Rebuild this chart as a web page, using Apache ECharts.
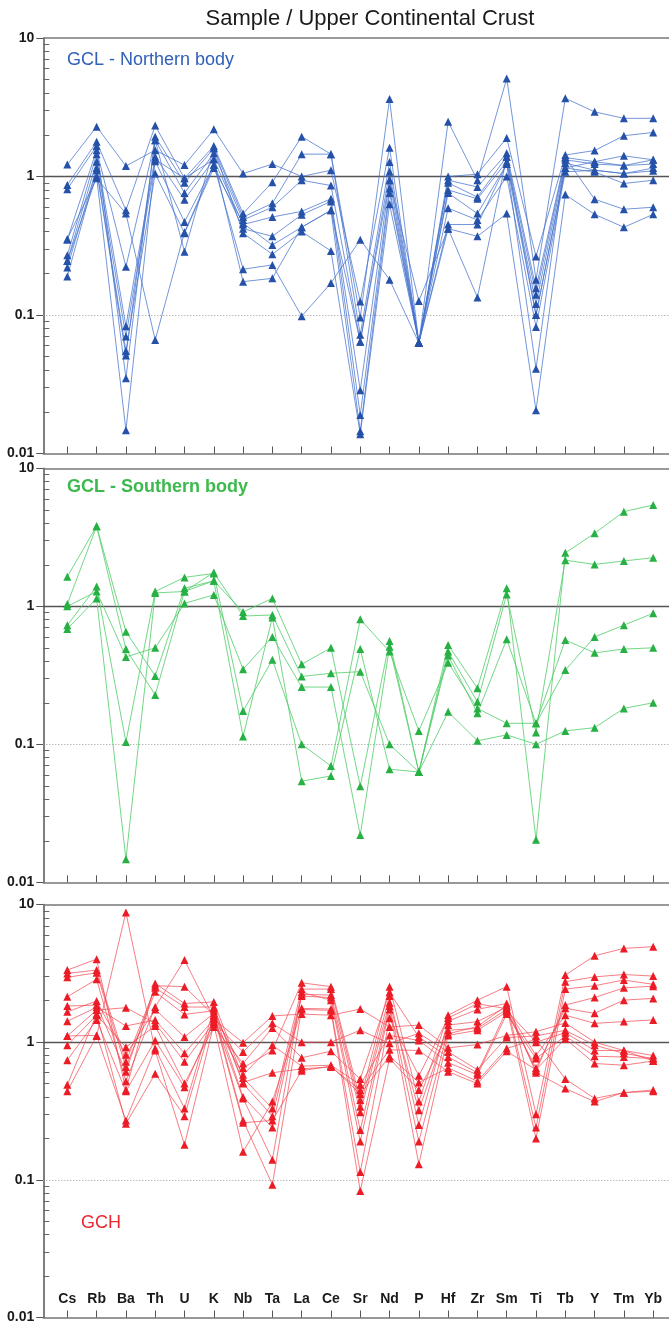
<!DOCTYPE html>
<html>
<head>
<meta charset="utf-8">
<script src="https://cdn.jsdelivr.net/npm/echarts@6/dist/echarts.min.js"></script>
<style>
  html, body { margin: 0; padding: 0; background: #fff; }
  #chart { width: 669px; height: 1326px; }
</style>
</head>
<body>
<div id="chart"></div>
<script>
// Elements on the x axis (normalised to Upper Continental Crust)
const elements = ['Cs','Rb','Ba','Th','U','K','Nb','Ta','La','Ce','Sr','Nd','P','Hf','Zr','Sm','Ti','Tb','Y','Tm','Yb'];
const yTickLabels = ['0.01', '0.1', '1', '10'];
const minorTickValues = [0.02,0.03,0.04,0.05,0.06,0.07,0.08,0.09,0.2,0.3,0.4,0.5,0.6,0.7,0.8,0.9,2,3,4,5,6,7,8,9];

// GCL - Northern body
const north1  = [1.22, 2.29, 1.19, 1.55, 1.21, 2.19, 1.05, 1.23, 1.0, 1.11, 0.125, 1.61, 0.063, 1.0, 1.04, 1.9, 0.264, 1.43, 1.54, 1.97, 2.08];
const north2  = [0.87, 1.78, 0.57, 2.33, 0.97, 1.66, 0.54, 0.91, 1.94, 1.45, 0.096, 3.62, 0.063, 2.49, 0.94, 5.1, 0.18, 3.67, 2.93, 2.63, 2.63];
const north3  = [0.81, 1.66, 0.035, 1.94, 0.90, 1.6, 0.51, 0.64, 1.45, 1.45, 0.072, 1.27, 0.063, 0.94, 0.84, 1.47, 0.156, 1.37, 1.28, 1.41, 1.32];
const north4  = [0.35, 1.55, 0.223, 1.83, 0.76, 1.47, 0.485, 0.60, 0.94, 0.86, 0.064, 1.08, 0.063, 0.90, 0.71, 1.39, 0.14, 1.32, 1.23, 1.2, 1.23];
const north5  = [0.27, 1.45, 0.083, 1.39, 0.68, 1.33, 0.45, 0.51, 0.56, 0.69, 0.0286, 0.94, 0.063, 0.80, 0.69, 1.28, 0.12, 1.25, 1.11, 1.05, 1.15];
const north6  = [0.245, 1.28, 0.07, 1.29, 0.47, 1.21, 0.42, 0.37, 0.53, 0.66, 0.019, 0.82, 0.063, 0.76, 0.54, 1.23, 0.1, 1.15, 1.08, 0.89, 0.94];
const north7  = [0.22, 1.15, 0.055, 1.05, 0.39, 1.15, 0.46, 0.32, 0.43, 0.57, 0.0145, 0.76, 0.063, 0.59, 0.485, 1.0, 0.082, 1.08, 1.11, 1.05, 1.10];
const north8  = [0.19, 1.11, 0.051, 1.83, 0.286, 1.6, 0.39, 0.274, 0.40, 0.29, 0.0138, 0.63, 0.063, 0.45, 0.45, 1.23, 0.041, 1.37, 0.685, 0.58, 0.60];
const north9  = [0.354, 0.97, 0.54, 0.066, 0.395, 1.21, 0.214, 0.23, 0.098, 0.17, 0.35, 0.18, 0.063, 0.42, 0.37, 0.54, 0.0205, 0.74, 0.533, 0.43, 0.533];
const north10 = [0.245, 1.0, 0.0147, 1.33, 0.97, 1.33, 0.174, 0.184, 0.43, 0.57, 0.064, 0.94, 0.126, 0.42, 0.134, 1.39, 0.1, 1.15, 1.28, 1.2, 1.32];

// GCL - Southern body
const south1 = [1.64, 3.81, 0.655, 0.313, 1.35, 1.53, 0.91, 1.14, 0.38, 0.5, 0.0497, 0.56, 0.063, 0.525, 0.255, 1.35, 0.0203, 2.44, 3.38, 4.85, 5.42];
const south2 = [1.04, 3.8, 0.49, 0.228, 1.28, 1.76, 0.85, 0.865, 0.31, 0.327, 0.336, 0.1, 0.063, 0.47, 0.203, 1.22, 0.122, 2.16, 2.01, 2.13, 2.25];
const south3 = [1.0, 1.28, 0.43, 0.5, 1.05, 1.21, 0.35, 0.6, 0.26, 0.26, 0.022, 0.51, 0.063, 0.44, 0.168, 0.577, 0.142, 0.57, 0.46, 0.49, 0.5];
const south4 = [0.73, 1.39, 0.104, 1.28, 1.62, 1.73, 0.174, 0.41, 0.1, 0.0696, 0.805, 0.47, 0.125, 0.39, 0.182, 0.142, 0.142, 0.345, 0.6, 0.73, 0.89];
const south5 = [0.685, 1.14, 0.0147, 1.25, 1.28, 1.53, 0.114, 0.83, 0.054, 0.059, 0.49, 0.066, 0.063, 0.172, 0.106, 0.117, 0.1, 0.125, 0.132, 0.182, 0.2];

// GCH
const gch1  = [1.83, 1.86, 0.61, 2.57, 2.53, 1.57, 0.65, 0.87, 2.7, 2.53, 0.38, 2.53, 0.37, 1.57, 2.02, 2.53, 0.3, 3.07, 4.24, 4.8, 4.94];
const gch2  = [3.34, 4.01, 0.45, 2.67, 1.91, 1.96, 0.55, 0.33, 2.43, 2.43, 0.34, 2.16, 0.25, 1.42, 1.73, 1.91, 0.24, 2.75, 2.98, 3.1, 3.02];
const gch3  = [3.16, 3.34, 0.72, 2.48, 1.8, 1.8, 0.5, 0.29, 2.22, 2.2, 0.31, 1.93, 0.32, 1.33, 1.41, 1.8, 0.2, 2.43, 2.57, 2.83, 2.63];
const gch4  = [2.96, 3.19, 0.66, 2.32, 1.59, 1.69, 0.4, 0.24, 2.16, 2.11, 0.23, 1.83, 0.19, 1.22, 1.26, 1.73, 0.62, 1.86, 2.11, 2.48, 2.55];
const gch5  = [2.14, 2.86, 0.52, 1.8, 3.95, 1.5, 0.39, 0.14, 2.3, 2.02, 0.19, 1.73, 0.13, 1.12, 1.22, 1.66, 0.65, 1.76, 1.62, 2.02, 2.08];
const gch6  = [1.66, 1.99, 0.81, 1.73, 1.09, 1.62, 0.27, 0.092, 1.76, 1.74, 0.114, 1.49, 0.57, 1.5, 1.9, 1.75, 0.8, 1.57, 1.37, 1.41, 1.45];
const gch7  = [1.42, 1.79, 1.31, 1.45, 0.83, 1.47, 0.99, 1.55, 1.6, 1.57, 1.74, 1.29, 1.33, 0.91, 0.96, 1.12, 1.19, 1.38, 1.0, 0.87, 0.80];
const gch8  = [1.11, 1.71, 1.78, 1.37, 0.72, 1.39, 0.85, 1.37, 1.0, 1.0, 1.22, 0.98, 1.16, 0.85, 0.63, 1.08, 1.11, 1.22, 0.95, 0.83, 0.76];
const gch9  = [0.95, 1.57, 0.92, 1.31, 0.5, 1.29, 0.7, 1.27, 0.77, 0.86, 0.54, 2.3, 1.09, 0.78, 0.6, 1.7, 1.0, 1.17, 0.87, 0.87, 0.73];
const gch10 = [0.74, 1.45, 0.44, 1.03, 0.47, 1.42, 0.58, 0.95, 0.67, 0.68, 0.49, 1.12, 1.03, 0.71, 0.58, 1.6, 0.76, 1.11, 0.79, 0.78, 0.76];
const gch11 = [1.11, 1.12, 0.27, 0.9, 0.33, 1.75, 0.51, 0.6, 0.64, 0.66, 0.45, 0.88, 0.87, 0.61, 0.5, 0.86, 0.63, 1.06, 0.70, 0.68, 0.73];
const gch12 = [0.49, 1.6, 0.256, 0.59, 0.29, 1.55, 0.26, 0.27, 0.62, 0.67, 0.42, 0.79, 0.51, 0.65, 0.52, 0.9, 1.05, 0.54, 0.39, 0.43, 0.45];
const gch13 = [0.44, 1.11, 8.75, 0.87, 0.18, 1.35, 0.16, 0.37, 1.73, 1.7, 0.083, 0.76, 0.45, 1.15, 1.3, 1.85, 0.6, 0.46, 0.37, 0.43, 0.44];

const panels = [
  { label: 'GCL - Northern body', bold: false, text: '#3160b8', line: 'rgba(70,115,205,0.75)', mark: '#2552a8',
    rows: [north1, north2, north3, north4, north5, north6, north7, north8, north9, north10],
    top: 38, height: 415.5, labelY: 60 },
  { label: 'GCL - Southern body', bold: true, text: '#3dba4e', line: 'rgba(80,205,105,0.8)', mark: '#27b043',
    rows: [south1, south2, south3, south4, south5],
    top: 468.3, height: 414, labelY: 487 },
  { label: 'GCH', bold: false, text: '#ee2431', line: 'rgba(242,70,80,0.7)', mark: '#ec1c27',
    rows: [gch1, gch2, gch3, gch4, gch5, gch6, gch7, gch8, gch9, gch10, gch11, gch12, gch13],
    top: 904.5, height: 413, labelY: 1223, labelX: 81 }
];

const FONT = '"Liberation Sans", Arial, Helvetica, sans-serif';
const tickIdx = elements.map((_, i) => i);

const grids = [], xAxes = [], yAxes = [], series = [], graphics = [];

graphics.push({
  type: 'text', x: 370, y: 19,
  style: { text: 'Sample / Upper Continental Crust', font: '22px ' + FONT, fill: '#1a1a1a',
           textAlign: 'center', textVerticalAlign: 'middle' }
});

panels.forEach((p, k) => {
  grids.push({ left: 43.3, right: 0, top: p.top, height: p.height });

  xAxes.push({
    type: 'value', gridIndex: k, min: -0.82, max: 20.54, position: 'bottom',
    axisLine: { show: true, onZero: false, lineStyle: { color: '#777', width: 1.5 } },
    axisTick: { show: true, inside: true, length: 7, customValues: tickIdx, lineStyle: { color: '#555', width: 1 } },
    axisLabel: k === 2 ? {
      show: true, inside: true, margin: 11, customValues: tickIdx,
      formatter: v => elements[Math.round(v)],
      fontFamily: FONT, fontWeight: 'bold', fontSize: 14, color: '#1a1a1a'
    } : { show: false },
    splitLine: { show: false }
  });

  // main log axis with decade ticks and labels
  yAxes.push({
    type: 'log', logBase: 10, gridIndex: k, min: 0.01, max: 10, position: 'left', offset: 0,
    axisLine: { show: true, onZero: false, lineStyle: { color: '#555', width: 1.5 } },
    axisTick: { show: true, length: 7, lineStyle: { color: '#555', width: 1 } },
    axisLabel: {
      margin: 9, fontFamily: FONT, fontWeight: 'bold', fontSize: 14, color: '#1a1a1a',
      formatter: v => yTickLabels[Math.round(Math.log10(v)) + 2]
    },
    splitLine: { show: false }
  });
  // companion axis carrying the inner minor ticks
  yAxes.push({
    type: 'log', logBase: 10, gridIndex: k, min: 0.01, max: 10, position: 'left', offset: 0,
    axisLine: { show: false, onZero: false },
    axisTick: { show: true, inside: true, length: 6, customValues: minorTickValues, lineStyle: { color: '#666', width: 1 } },
    axisLabel: { show: false },
    splitLine: { show: false }
  });

  p.rows.forEach((row, j) => {
    const s = {
      type: 'line', xAxisIndex: k, yAxisIndex: k * 2,
      data: row.map((v, i) => [i, v]),
      symbol: 'triangle', symbolSize: 8,
      lineStyle: { color: p.line, width: 1 },
      itemStyle: { color: p.mark },
      emphasis: { disabled: true },
      animation: false, z: 3
    };
    if (j === 0) {
      s.markLine = {
        silent: true, symbol: 'none', animation: false, label: { show: false },
        data: [
          { yAxis: 10, lineStyle: { color: '#777', width: 1.5, type: 'solid' } },
          { yAxis: 1, lineStyle: { color: '#555', width: 1.3, type: 'solid' } },
          { yAxis: 0.1, lineStyle: { color: '#999', width: 1, type: [1, 2] } }
        ],
        z: 1
      };
    }
    series.push(s);
  });

  graphics.push({
    type: 'text', x: p.labelX || 67, y: p.labelY,
    style: { text: p.label, font: (p.bold ? 'bold ' : '') + '18px ' + FONT, fill: p.text,
             textAlign: 'left', textVerticalAlign: 'middle' }
  });
});

const chart = echarts.init(document.getElementById('chart'), null, { renderer: 'canvas' });
chart.setOption({
  backgroundColor: '#fff',
  animation: false,
  grid: grids,
  xAxis: xAxes,
  yAxis: yAxes,
  series: series,
  graphic: graphics
});
</script>
</body>
</html>
